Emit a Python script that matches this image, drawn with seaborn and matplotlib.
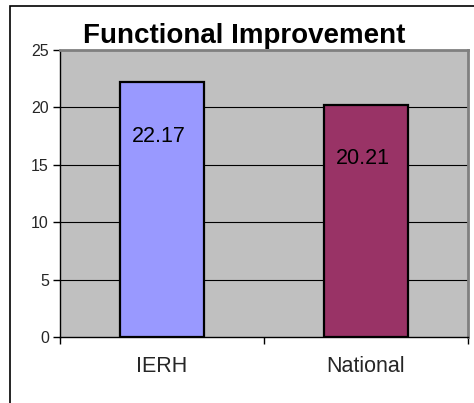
import matplotlib
matplotlib.use("Agg")
import matplotlib.pyplot as plt
import matplotlib.patches as mpatches
import seaborn as sns
import pandas as pd

categories = ["IERH", "National"]
values = [22.17, 20.21]
value_labels = ["22.17", "20.21"]
bar_colors = ["#9999FF", "#993366"]
yticks = [0, 5, 10, 15, 20, 25]
title = "Functional Improvement"

sns.set_style("white")
plt.rcParams["font.family"] = ["Liberation Sans", "DejaVu Sans"]

W, H = 474, 403
fig = plt.figure(figsize=(W / 100, H / 100), dpi=100)
ax = fig.add_axes([60 / W, (H - 337) / H, (468 - 60) / W, (337 - 50) / H])
ax.set_facecolor("#C0C0C0")

df = pd.DataFrame({"cat": categories, "val": values})
sns.barplot(data=df, x="cat", y="val", hue="cat", palette=bar_colors,
            saturation=1, width=0.41, edgecolor="black", linewidth=1.6,
            legend=False, ax=ax, zorder=3)

ax.set_ylim(0, 25)
ax.set_xlim(-0.5, 1.5)
ax.set_yticks(yticks)
ax.set_yticklabels([str(t) for t in yticks], fontsize=11.5)
ax.set_xlabel("")
ax.set_ylabel("")
ax.tick_params(axis="y", direction="out", length=5, width=1, color="black", pad=3, left=True)
ax.tick_params(axis="x", which="major", length=0, labelsize=15.5, pad=14)
ax.set_xticks([-0.5, 0.5, 1.5], minor=True)
ax.tick_params(axis="x", which="minor", direction="out", length=5, width=1, color="black", bottom=True)

for y in [5, 10, 15, 20]:
    ax.axhline(y, color="black", lw=0.8, zorder=1)

for side in ["top", "right"]:
    ax.spines[side].set_visible(True)
    ax.spines[side].set_color("#808080")
    ax.spines[side].set_linewidth(2)
for side in ["left", "bottom"]:
    ax.spines[side].set_visible(True)
    ax.spines[side].set_color("black")
    ax.spines[side].set_linewidth(1)

for i, (v, lab) in enumerate(zip(values, value_labels)):
    ax.annotate(lab, xy=(i, v), xytext=(-3, -54), textcoords="offset pixels",
                ha="center", va="center", fontsize=15.5, color="black", zorder=5)

fig.text(244 / W, 1 - 36 / H, title, ha="center", va="center",
         fontsize=20, fontweight="bold", color="black")

frame = mpatches.Rectangle((10 / W, -0.1), 1.2, 1 - 6 / H + 0.1,
                           transform=fig.transFigure, fill=False,
                           edgecolor="black", lw=1.2, clip_on=False)
fig.patches.append(frame)

fig.savefig("out.png", dpi=100)
